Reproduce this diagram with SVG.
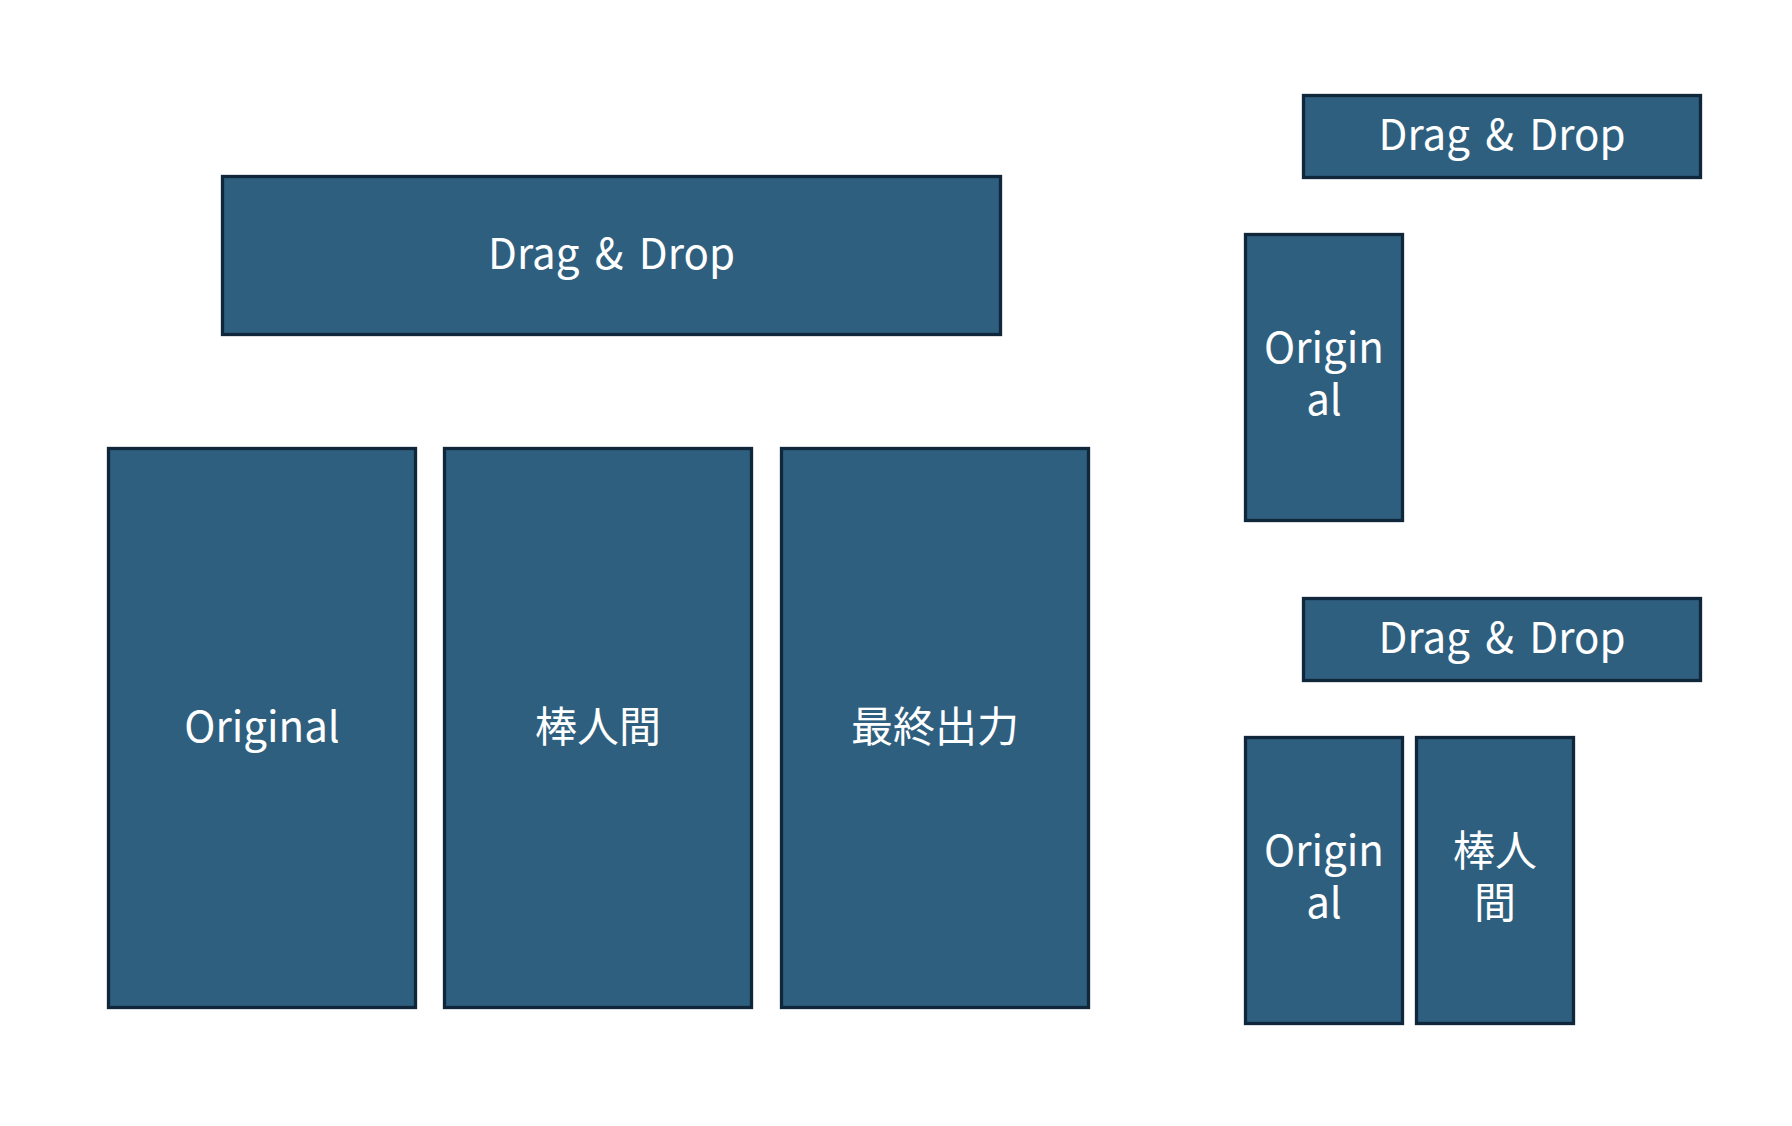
<svg xmlns="http://www.w3.org/2000/svg" width="1792" height="1126" viewBox="0 0 1792 1126">
<style>
.box{fill:#2F5F7F;stroke:#10263A;stroke-width:3.3}
.t{fill:#FFFFFF;font-family:"Noto Sans CJK JP","Noto Sans",sans-serif;font-size:42px;text-anchor:middle}
.dd{word-spacing:6px}
</style>
<rect width="1792" height="1126" fill="#FFFFFF"/>
<g id="dragdrop-main"><rect class="box" x="222.5" y="176.5" width="778" height="158"/><text class="t dd" x="611.5" y="269">Drag &amp; Drop</text></g>
<g id="original-main"><rect class="box" x="108.5" y="448.5" width="307" height="559"/><text class="t" x="262" y="742">Original</text></g>
<g id="bounin-main"><rect class="box" x="444.5" y="448.5" width="307" height="559"/><text class="t" x="598" y="742">棒人間</text></g>
<g id="final-main"><rect class="box" x="781.5" y="448.5" width="307" height="559"/><text class="t" x="935" y="742">最終出力</text></g>
<g id="dragdrop-r1"><rect class="box" x="1303.5" y="95.5" width="397" height="82"/><text class="t dd" x="1502" y="150">Drag &amp; Drop</text></g>
<g id="original-r1"><rect class="box" x="1245.5" y="234.5" width="157" height="286"/><text class="t" x="1324" y="363">Origin</text><text class="t" x="1324" y="415">al</text></g>
<g id="dragdrop-r2"><rect class="box" x="1303.5" y="598.5" width="397" height="82"/><text class="t dd" x="1502" y="653">Drag &amp; Drop</text></g>
<g id="original-r2"><rect class="box" x="1245.5" y="737.5" width="157" height="286"/><text class="t" x="1324" y="866">Origin</text><text class="t" x="1324" y="918">al</text></g>
<g id="bounin-r2"><rect class="box" x="1416.5" y="737.5" width="157" height="286"/><text class="t" x="1495" y="866">棒人</text><text class="t" x="1495" y="918">間</text></g>
<g id="connectors"></g>
</svg>
